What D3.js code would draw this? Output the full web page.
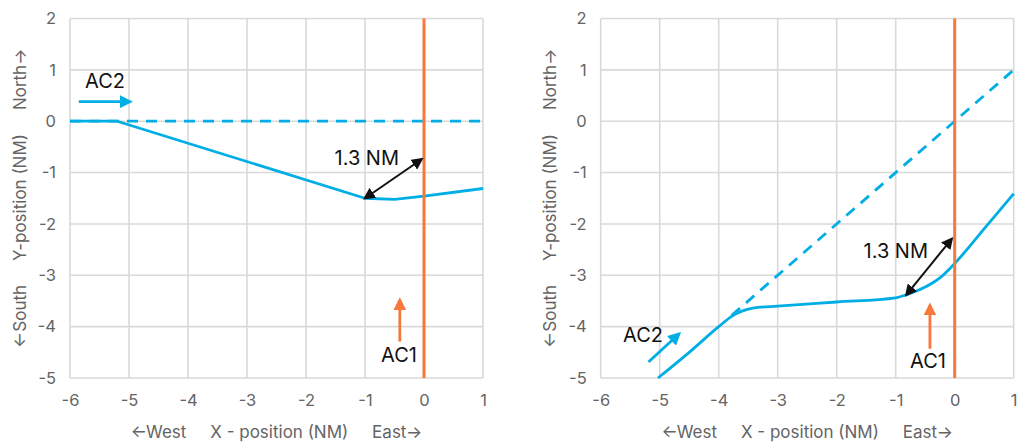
<!DOCTYPE html>
<html>
<head>
<meta charset="utf-8">
<script src="https://cdn.jsdelivr.net/npm/d3@7"></script>
<style>
  body { margin: 0; background: #fff; }
  svg { display: block; font-family: Inter, "Open Sans", sans-serif; }
</style>
</head>
<body>
<div id="chart"></div>
<script>
// Axis ticks
const xTicks = [-6, -5, -4, -3, -2, -1, 0, 1];
const yTicks = [2, 1, 0, -1, -2, -3, -4, -5];

// Left panel: AC2 heading east, turning right
const leftPlanned = [[-6, 0], [1, 0]];
const leftActual = [[-6, 0], [-5.2, 0], [-1.0, -1.5], [-0.5, -1.52], [0, -1.46], [1, -1.31]];
const leftAc2Arrow = [[-5.85, 0.38], [-4.98, 0.38]];
const leftAc1Arrow = [[-0.41, -4.29], [-0.41, -3.48]];
const leftSep = [[-1.0, -1.5], [-0.04, -0.74]];

// Right panel: AC2 heading north-east
const rightPlanned = [[-3.78, -3.78], [1, 1]];
const rightActual = [[-5.03, -5], [-4.5, -4.5], [-4.0, -4.0], [-3.78, -3.8], [-3.42, -3.64],
  [-3.0, -3.6], [-2.0, -3.52], [-1.0, -3.44], [-0.82, -3.38], [-0.5, -3.23], [-0.22, -3.02],
  [0, -2.77], [0.17, -2.55], [0.48, -2.12], [1, -1.41]];
const rightAc2Arrow = [[-5.19, -4.69], [-4.67, -4.14]];
const rightAc1Arrow = [[-0.42, -4.43], [-0.42, -3.58]];
const rightSep = [[-0.82, -3.38], [-0.05, -2.29]];

const blue = "#00aee6", orange = "#f8773a", gridCol = "#d9d9d9", textCol = "#646464";

const svg = d3.select("#chart").append("svg")
  .attr("width", 1030).attr("height", 443);

const defs = svg.append("defs");
function marker(id, color, size) {
  defs.append("marker")
    .attr("id", id).attr("viewBox", "0 0 10 10")
    .attr("refX", 8).attr("refY", 5)
    .attr("markerWidth", size).attr("markerHeight", size)
    .attr("markerUnits", "userSpaceOnUse")
    .attr("orient", "auto-start-reverse")
    .append("path").attr("d", "M0,0 L10,5 L0,10 z").attr("fill", color);
}
marker("arBlue", blue, 13);
marker("arOrange", orange, 13);
marker("arBlack", "#111", 12);

function panel(left, cfg) {
  const w = 413, h = 359.5, top = 18.5;
  const x = d3.scaleLinear().domain([-6, 1]).range([left, left + w]);
  const y = d3.scaleLinear().domain([-5, 2]).range([top + h, top]);
  const g = svg.append("g");

  // grid
  g.selectAll(".gx").data(xTicks).join("line")
    .attr("x1", d => x(d)).attr("x2", d => x(d))
    .attr("y1", y(2)).attr("y2", y(-5))
    .attr("stroke", gridCol).attr("stroke-width", 1.6);
  g.selectAll(".gy").data(yTicks).join("line")
    .attr("x1", x(-6)).attr("x2", x(1))
    .attr("y1", d => y(d)).attr("y2", d => y(d))
    .attr("stroke", gridCol).attr("stroke-width", 1.6);

  // axes (tick labels only), plain hyphen minus like the original
  const xAxis = g.append("g").attr("transform", `translate(0,${y(-5)})`)
    .call(d3.axisBottom(x).tickValues(xTicks).tickSize(0).tickPadding(16).tickFormat(d => String(d)));
  const yAxis = g.append("g").attr("transform", `translate(${x(-6)},0)`)
    .call(d3.axisLeft(y).tickValues(yTicks).tickSize(0).tickPadding(14).tickFormat(d => String(d)));
  [xAxis, yAxis].forEach(a => {
    a.select(".domain").remove();
    a.selectAll("text").attr("fill", textCol).attr("font-size", 16.5)
      .attr("font-family", "Inter, sans-serif");
  });

  const line = d3.line().x(d => x(d[0])).y(d => y(d[1]));

  // planned path (dashed)
  g.append("path").datum(cfg.planned)
    .attr("d", line).attr("fill", "none")
    .attr("stroke", blue).attr("stroke-width", 2.8)
    .attr("stroke-dasharray", "11,8");

  // actual path
  g.append("path").datum(cfg.actual)
    .attr("d", line.curve(cfg.curve)).attr("fill", "none")
    .attr("stroke", blue).attr("stroke-width", 2.8)
    .attr("stroke-linejoin", "round");
  line.curve(d3.curveLinear);

  // AC1 track
  g.append("line")
    .attr("x1", x(0)).attr("x2", x(0)).attr("y1", y(2)).attr("y2", y(-5))
    .attr("stroke", orange).attr("stroke-width", 3);

  // arrows
  g.append("path").datum(cfg.ac2Arrow).attr("d", line)
    .attr("stroke", blue).attr("stroke-width", 2.8).attr("marker-end", "url(#arBlue)");
  g.append("path").datum(cfg.ac1Arrow).attr("d", line)
    .attr("stroke", orange).attr("stroke-width", 2.8).attr("marker-end", "url(#arOrange)");
  g.append("path").datum(cfg.sep).attr("d", line)
    .attr("stroke", "#111").attr("stroke-width", 2)
    .attr("marker-start", "url(#arBlack)").attr("marker-end", "url(#arBlack)");

  // labels
  const lab = (px, py, t, anchor) => g.append("text")
    .attr("x", px).attr("y", py).attr("text-anchor", anchor)
    .attr("font-size", 20).attr("fill", "#111").text(t);
  lab(cfg.ac2Label[0], cfg.ac2Label[1], "AC2", "middle");
  lab(cfg.ac1Label[0], cfg.ac1Label[1], "AC1", "middle");
  lab(cfg.sepLabel[0], cfg.sepLabel[1], "1.3 NM", "end");

  // axis titles
  g.append("text")
    .attr("x", left + w / 2).attr("y", 438).attr("text-anchor", "middle")
    .attr("font-size", 17).attr("fill", textCol).attr("xml:space", "preserve")
    .text("\u2190West     X - position (NM)     East\u2192");
  g.append("text")
    .attr("transform", `translate(${cfg.yTitleX},${top + h / 2}) rotate(-90)`)
    .attr("text-anchor", "middle").attr("dy", "0.35em")
    .attr("font-size", 17).attr("fill", textCol).attr("xml:space", "preserve")
    .text("\u2190South     Y-position (NM)     North\u2192");
}

panel(70, {
  planned: leftPlanned, actual: leftActual, curve: d3.curveLinear,
  ac2Arrow: leftAc2Arrow, ac1Arrow: leftAc1Arrow, sep: leftSep,
  ac2Label: [105, 88], ac1Label: [399, 362], sepLabel: [399, 165], yTitleX: 20
});
panel(600.7, {
  planned: rightPlanned, actual: rightActual, curve: d3.curveMonotoneX,
  ac2Arrow: rightAc2Arrow, ac1Arrow: rightAc1Arrow, sep: rightSep,
  ac2Label: [643, 342], ac1Label: [928, 368], sepLabel: [928, 258], yTitleX: 550
});
</script>
</body>
</html>
